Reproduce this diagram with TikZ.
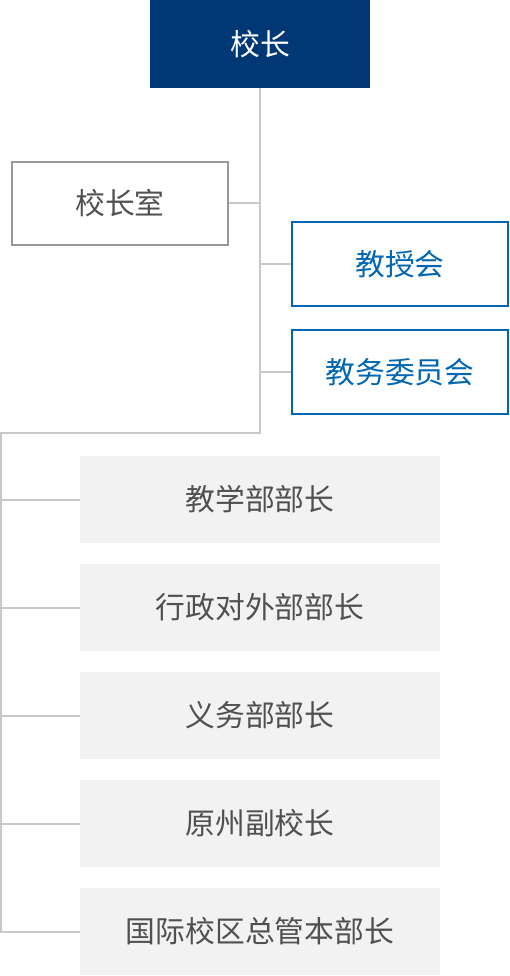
\documentclass[tikz,border=0pt]{standalone}
\usepackage{fontspec}
\setmainfont{Noto Sans CJK SC}
\definecolor{topblue}{RGB}{0,56,118}
\definecolor{midblue}{RGB}{0,102,179}
\definecolor{linegray}{RGB}{200,200,200}
\definecolor{boxgray}{RGB}{242,242,242}
\definecolor{txtgray}{RGB}{80,80,80}
\definecolor{bordergray}{RGB}{153,153,153}
\begin{document}
\begin{tikzpicture}[x=1pt,y=-1pt,
  base/.style={rectangle,inner sep=0pt,font=\fontsize{29.8}{34}\selectfont},
  headbox/.style={base,fill=topblue,text=white,minimum width=220pt,minimum height=88pt},
  officebox/.style={base,draw=bordergray,line width=2pt,text=txtgray,minimum width=216pt,minimum height=83pt},
  councilbox/.style={base,draw=midblue,line width=2pt,text=midblue,minimum width=216pt,minimum height=84pt},
  deptbox/.style={base,fill=boxgray,text=txtgray,minimum width=360pt,minimum height=87pt},
  conn/.style={draw=linegray,line width=2pt}]
\useasboundingbox (0,0) rectangle (510,976);
\node[headbox] (top) at (260,44) {校长};
\node[officebox] (xz) at (120,203.5) {校长室};
\node[councilbox] (jsh) at (400,264) {教授会};
\node[councilbox] (jwh) at (400,372) {教务委员会};
\node[deptbox] (g1) at (260,499.5) {教学部部长};
\node[deptbox] (g2) at (260,607.5) {行政对外部部长};
\node[deptbox] (g3) at (260,715.5) {义务部部长};
\node[deptbox] (g4) at (260,823.5) {原州副校长};
\node[deptbox] (g5) at (260,931.5) {国际校区总管本部长};
\coordinate (L) at (1,433);
\path[conn] (top.south) -- (top.south |- L) -- (L) -- (L |- g5.west) -- (g5.west);
\path[conn] (xz.east) -- (xz.east -| top.south);
\path[conn] (jsh.west) -- (jsh.west -| top.south);
\path[conn] (jwh.west) -- (jwh.west -| top.south);
\foreach \g in {g1,g2,g3,g4}{\path[conn] (\g.west) -- (\g.west -| L);}
\end{tikzpicture}
\end{document}
